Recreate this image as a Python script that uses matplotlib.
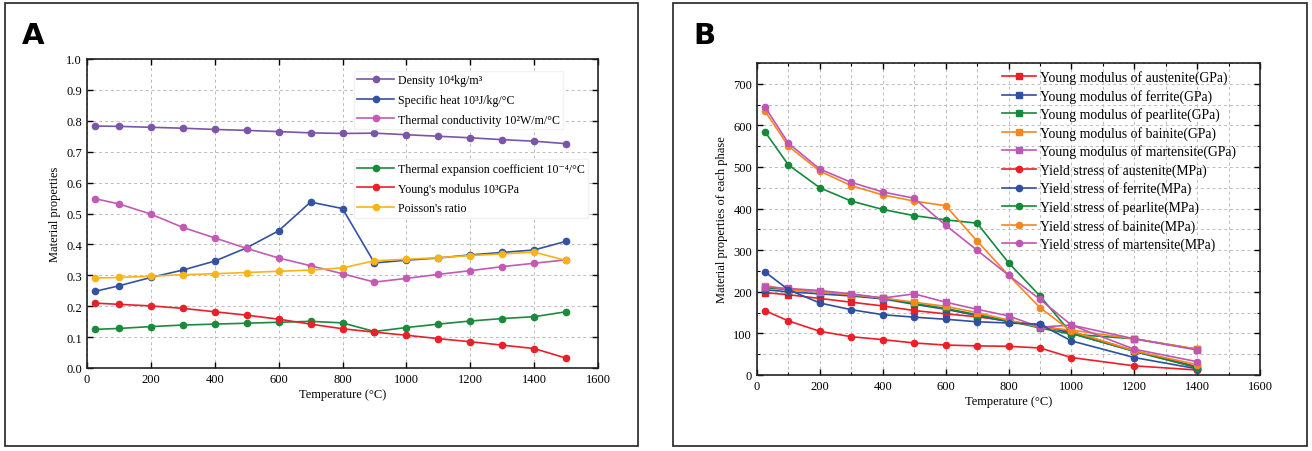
import matplotlib
matplotlib.use("Agg")
import matplotlib.pyplot as plt
from matplotlib.patches import Rectangle
from matplotlib.ticker import MultipleLocator, FormatStrFormatter

plt.rcParams['font.family'] = ['Liberation Serif', 'DejaVu Serif']

# ---------------- Panel A data ----------------
temp_a = [25, 100, 200, 300, 400, 500, 600, 700, 800, 900, 1000, 1100, 1200, 1300, 1400, 1500]
density = [0.783, 0.782, 0.779, 0.776, 0.772, 0.769, 0.765, 0.761, 0.759, 0.760, 0.755, 0.750, 0.745, 0.739, 0.734, 0.726]
specific_heat = [0.248, 0.266, 0.293, 0.317, 0.346, 0.389, 0.444, 0.537, 0.516, 0.340, 0.349, 0.356, 0.366, 0.374, 0.382, 0.410]
thermal_cond = [0.548, 0.531, 0.498, 0.455, 0.421, 0.387, 0.356, 0.331, 0.305, 0.278, 0.290, 0.303, 0.315, 0.328, 0.339, 0.350]
thermal_exp = [0.125, 0.128, 0.134, 0.139, 0.142, 0.145, 0.148, 0.151, 0.146, 0.118, 0.131, 0.142, 0.152, 0.160, 0.166, 0.182]
youngs_a = [0.210, 0.206, 0.201, 0.193, 0.182, 0.171, 0.158, 0.142, 0.127, 0.116, 0.106, 0.095, 0.085, 0.074, 0.063, 0.032]
poisson = [0.291, 0.293, 0.297, 0.302, 0.305, 0.309, 0.313, 0.317, 0.324, 0.347, 0.352, 0.357, 0.364, 0.369, 0.375, 0.348]

labels_a1 = ["Density 10\u2074kg/m\u00b3", "Specific heat 10\u00b3J/kg/\u00b0C", "Thermal conductivity 10\u00b2W/m/\u00b0C"]
labels_a2 = ["Thermal expansion coefficient 10\u207b\u2074/\u00b0C", "Young's modulus 10\u00b3GPa", "Poisson's ratio"]

# ---------------- Panel B data ----------------
temp_b = [25, 100, 200, 300, 400, 500, 600, 700, 800, 900, 1000, 1200, 1400]
ym_austenite = [198, 193, 184, 175, 166, 155, 147, 140, 130, 118, 105, 58, 20]
ym_ferrite = [205, 200, 195, 190, 183, 170, 158, 143, 128, 120, 100, 57, 18]
ym_pearlite = [210, 205, 200, 193, 185, 172, 160, 145, 130, 113, 98, 87, 62]
ym_bainite = [215, 205, 200, 193, 185, 175, 165, 150, 132, 115, 108, 87, 62]
ym_martensite = [212, 208, 203, 195, 185, 195, 175, 158, 142, 115, 120, 87, 60]
ys_austenite = [155, 130, 105, 92, 85, 77, 72, 70, 69, 65, 42, 22, 12]
ys_ferrite = [248, 205, 173, 157, 145, 139, 134, 128, 125, 122, 82, 42, 15]
ys_pearlite = [585, 505, 450, 418, 398, 383, 373, 365, 270, 190, 100, 57, 18]
ys_bainite = [635, 550, 490, 455, 433, 418, 407, 322, 240, 162, 105, 58, 25]
ys_martensite = [645, 557, 495, 463, 440, 425, 360, 300, 240, 182, 120, 62, 32]

labels_b = ["Young modulus of austenite(GPa)", "Young modulus of ferrite(GPa)",
            "Young modulus of pearlite(GPa)", "Young modulus of bainite(GPa)",
            "Young modulus of martensite(GPa)", "Yield stress of austenite(MPa)",
            "Yield stress of ferrite(MPa)", "Yield stress of pearlite(MPa)",
            "Yield stress of bainite(MPa)", "Yield stress of martensite(MPa)"]

W, H = 1312, 452
fig = plt.figure(figsize=(W / 100, H / 100), dpi=100)

def fr(x0, y0, x1, y1):
    return [x0 / W, 1 - y1 / H, (x1 - x0) / W, (y1 - y0) / H]

# Panel frames
for (x0, x1) in [(5, 638), (673, 1307)]:
    fig.patches.append(Rectangle((x0 / W, 5 / H), (x1 - x0) / W, (448 - 5) / H,
                                 transform=fig.transFigure, fill=False,
                                 edgecolor='#222222', linewidth=1.2))
fig.text(22 / W, 1 - 36 / H, "A", fontsize=21, fontweight='bold',
         family=['DejaVu Sans'], va='center', ha='left')
fig.text(693 / W, 1 - 36 / H, "B", fontsize=21, fontweight='bold',
         family=['DejaVu Sans'], va='center', ha='left')

def style_axes(ax):
    ax.grid(True, linestyle=(0, (3, 3)), color='#bbbbbb', linewidth=0.7)
    ax.set_axisbelow(True)
    for s in ax.spines.values():
        s.set_linewidth(1.2)
        s.set_color('#222222')
    ax.tick_params(direction='in', length=4, width=1, labelsize=9, top=True, right=True)
    ax.tick_params(which='minor', direction='in', length=2.5, width=0.8, top=True, right=True)

# ---------------- Panel A ----------------
axA = fig.add_axes(fr(87, 60, 598, 369))
ms = 4.5
cols_a = ['#7a55a8', '#3452a2', '#c35ab4', '#1b8a3c', '#e9202a', '#f8b418']
la = []
for y, c in zip([density, specific_heat, thermal_cond, thermal_exp, youngs_a, poisson], cols_a):
    l, = axA.plot(temp_a, y, '-o', color=c, markersize=ms, linewidth=1.2)
    la.append(l)
axA.set_xlim(0, 1600)
axA.set_ylim(0, 1.0)
axA.xaxis.set_major_locator(MultipleLocator(200))
axA.yaxis.set_major_locator(MultipleLocator(0.1))
axA.yaxis.set_major_formatter(FormatStrFormatter('%.1f'))
style_axes(axA)
axA.set_xlabel("Temperature (\u00b0C)", fontsize=9, labelpad=2)
axA.set_ylabel("Material properties", fontsize=9, labelpad=4)
legkw = dict(fontsize=8.6, frameon=True, framealpha=1, edgecolor='#f2f2f2',
             facecolor='white', handlelength=3.1, handletextpad=0.3,
             labelspacing=0.65, borderpad=0.3, fancybox=False)
leg1 = axA.legend(la[:3], labels_a1, loc='upper left', bbox_to_anchor=(0.51, 0.982), **legkw)
axA.add_artist(leg1)
axA.legend(la[3:], labels_a2, loc='upper left', bbox_to_anchor=(0.51, 0.695), **legkw)

# ---------------- Panel B ----------------
axB = fig.add_axes(fr(757, 64, 1260, 376))
cols_b = ['#ee1d26', '#2f4fa0', '#14893a', '#f7861f', '#c056b4']
lb = []
ym_all = [ym_austenite, ym_ferrite, ym_pearlite, ym_bainite, ym_martensite]
ys_all = [ys_austenite, ys_ferrite, ys_pearlite, ys_bainite, ys_martensite]
for y, c in zip(ym_all, cols_b):
    l, = axB.plot(temp_b, y, '-s', color=c, markersize=4.2, linewidth=1.2)
    lb.append(l)
for y, c in zip(ys_all, cols_b):
    l, = axB.plot(temp_b, y, '-o', color=c, markersize=4.5, linewidth=1.2)
    lb.append(l)
axB.set_xlim(0, 1600)
axB.set_ylim(0, 750)
axB.xaxis.set_major_locator(MultipleLocator(200))
axB.xaxis.set_minor_locator(MultipleLocator(100))
axB.yaxis.set_major_locator(MultipleLocator(100))
axB.yaxis.set_minor_locator(MultipleLocator(50))
style_axes(axB)
axB.grid(True, which='minor', linestyle=(0, (3, 3)), color='#bbbbbb', linewidth=0.7)
axB.set_xlabel("Temperature (\u00b0C)", fontsize=9, labelpad=2)
axB.set_ylabel("Material properties of each phase", fontsize=9, labelpad=4)
axB.legend(lb, labels_b, loc='upper left', bbox_to_anchor=(0.487, 0.977),
           fontsize=9.9, frameon=False, handlelength=2.5, handletextpad=0.25,
           labelspacing=0.335, borderpad=0.0, borderaxespad=0.0)

fig.savefig("out.png", dpi=100)
